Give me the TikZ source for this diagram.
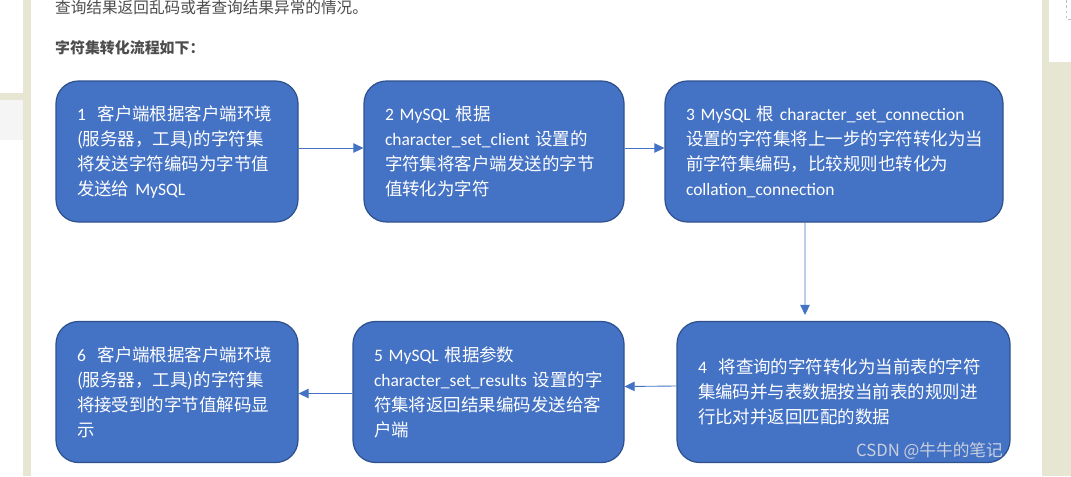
\documentclass[tikz,border=0pt]{standalone}
\usepackage{fontspec}
\setmainfont{Noto Sans CJK SC}
\newfontfamily\enfont{Carlito}
\newcommand{\en}[1]{{\enfont #1}}
\usepackage{tikz}
\usetikzlibrary{arrows.meta}
\definecolor{boxblue}{HTML}{4472C4}
\definecolor{boxedge}{HTML}{2F528F}
\definecolor{linkblue}{HTML}{4472C4}
\definecolor{pagegrey}{HTML}{4D4D4D}
\definecolor{sidebar}{HTML}{E6E6D2}
\definecolor{markgrey}{HTML}{C9CFDC}
\tikzstyle{stepbox} = [font=\fontsize{19.9}{28.45}\selectfont, rectangle, rounded corners=0.9cm, minimum height=5.64cm, inner xsep=0.84cm, align=left, draw=boxedge, line width=1.4pt, fill=boxblue, text=white, execute at begin node={\hyphenpenalty=10000 \exhyphenpenalty=10000}]
\tikzstyle{pagetext} = [font=\fontsize{17.8}{22}\selectfont, text=pagegrey, anchor=west, inner sep=0pt]
\tikzstyle{arrow} = [line width=1pt, draw=linkblue, -{Triangle[length=0.4cm,width=0.38cm]}, linkblue]

\begin{document}
\begin{tikzpicture}
  \useasboundingbox (0,0) rectangle (42.84,-19.04);
  \fill[white] (0,0) rectangle (42.84,-19.04);
  % page edges
  \fill[sidebar] (0.92,0) rectangle (1.24,-19.04);
  \fill[sidebar] (0,-3.72) rectangle (0.92,-4.0);
  \fill[black!4] (0,-4.0) rectangle (0.92,-5.6);
  \fill[sidebar] (41.68,0) rectangle (42.84,-19.04);
  \fill[white] (41.96,0) rectangle (42.84,-2.48);
  \draw[black!25, dashed] (42.64,0) -- (42.64,-0.76) -- (42.84,-0.76);

  \node (intro) [pagetext] at (2.2,-0.32) {查询结果返回乱码或者查询结果异常的情况。};
  \node (title) [pagetext, font=\fontsize{17}{22}\selectfont\bfseries] at (2.2,-1.92) {字符集转化流程如下：};

  \node (client send) [stepbox, text width=8cm] at (7.08,-6.06) {\en{1}~~客户端根据客户端环境\\
    (服务器，工具)的字符集\\
    将发送字符编码为字节值\\
    发送给~\en{MySQL}};
  \node (to client set) [stepbox, text width=8.72cm, right of=client send, xshift=11.68cm] {\en{2~MySQL}~根据\\
    \en{character\_set\_client}~设置的\\
    字符集将客户端发送的字节\\
    值转化为字符};
  \node (to connection) [stepbox, text width=11.84cm, right of=to client set, xshift=12.6cm] {\en{3~MySQL}~根~\en{character\_set\_connection}\\
    设置的字符集将上一步的字符转化为当\\
    前字符集编码，比较规则也转化为\\
    \en{collation\_connection}};
  \node (to table) [stepbox, text width=11.64cm, below of=to connection, yshift=-8.62cm, xshift=0.38cm] {\en{4}~~将查询的字符转化为当前表的字符\\
    集编码并与表数据按当前表的规则进\\
    行比对并返回匹配的数据};
  \node (to results) [stepbox, text width=9.16cm, left of=to table, xshift=-13.2cm] {\en{5~MySQL}~根据参数\\
    \en{character\_set\_results}~设置的字\\
    符集将返回结果编码发送给客\\
    户端};
  \node (client show) [stepbox, text width=8cm, left of=to results, xshift=-11.46cm] {\en{6}~~客户端根据客户端环境\\
    (服务器，工具)的字符集\\
    将接受到的字节值解码显\\
    示};
  \node (watermark) [font=\fontsize{19}{22}\selectfont, text=markgrey, anchor=east, inner sep=0pt] at (40.12,-18.04) {CSDN @牛牛的笔记};

  \draw[arrow]([yshift=0.14cm]client send.east) -- ([yshift=0.14cm]to client set.west);
  \draw[arrow]([yshift=0.14cm]to client set.east) -- ([yshift=0.14cm]to connection.west);
  \draw[arrow, shorten >=0.24cm]([xshift=-1.16cm]to connection.south) -- ([xshift=-1.54cm]to table.north);
  \draw[arrow]([yshift=0.24cm]to table.west) -- ([yshift=0.22cm]to results.east);
  \draw[arrow]([yshift=-0.06cm]to results.west) -- ([yshift=-0.06cm]client show.east);
\end{tikzpicture}
\end{document}
